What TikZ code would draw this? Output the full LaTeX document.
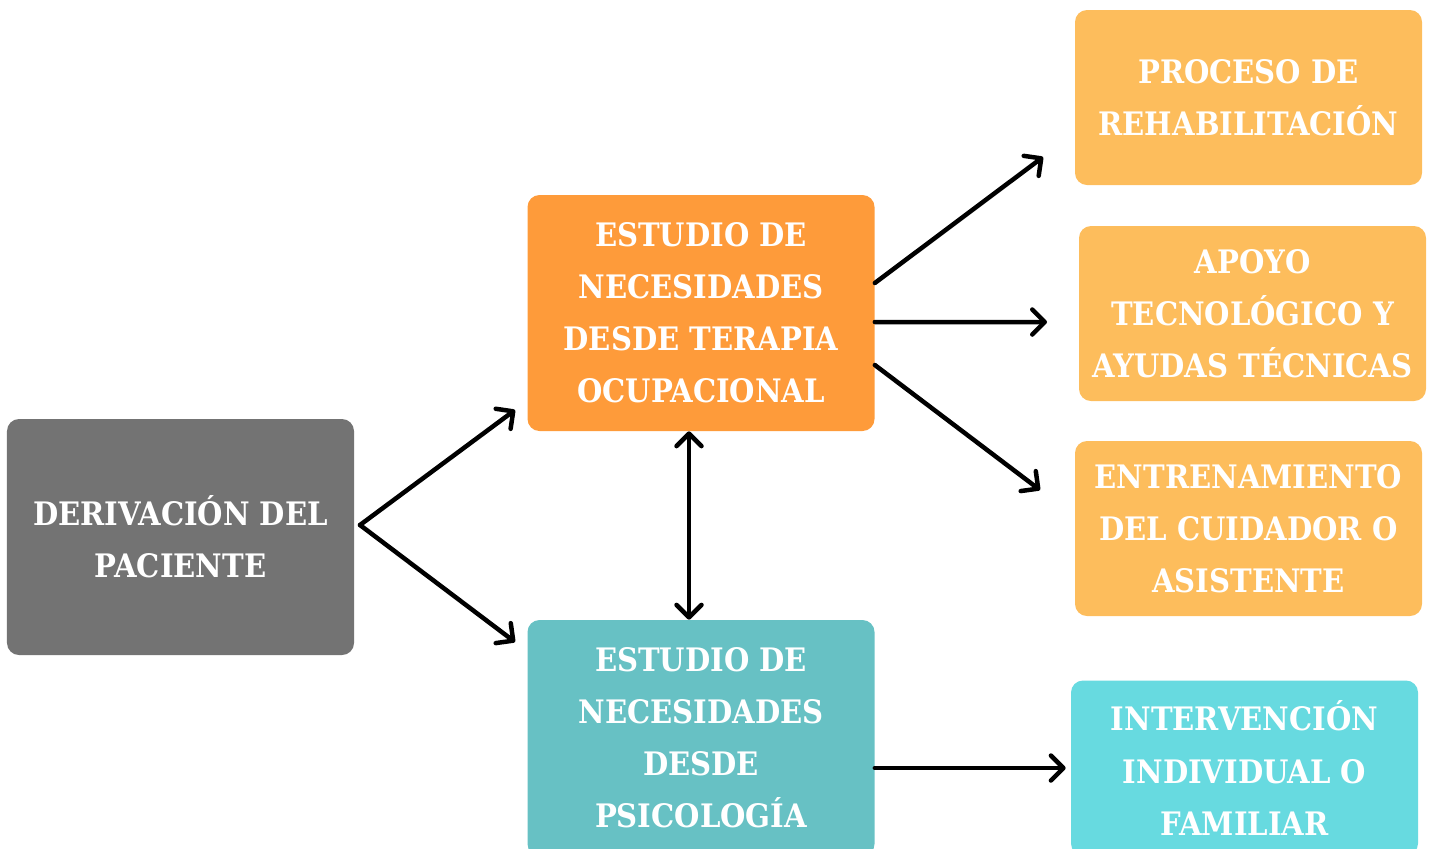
\documentclass[tikz,border=0pt]{standalone}
\usepackage{fontspec}
\newfontfamily\boxfont{DejaVu Serif Condensed}
\usetikzlibrary{arrows.meta}

\definecolor{grisderiv}{HTML}{737373}
\definecolor{naranja}{HTML}{FE9B3A}
\definecolor{naranjaclaro}{HTML}{FDBD5C}
\definecolor{turquesa}{HTML}{67C1C4}
\definecolor{turquesaclaro}{HTML}{67DAE0}

\tikzset{
    caja/.style={rectangle,rounded corners=0.24cm,text=white,align=center,
        minimum width=6.94cm,inner sep=0pt,
        font=\boxfont\bfseries\fontsize{18.4}{29.6}\selectfont},
    flecha/.style={line width=0.09cm,line cap=round,
        -{Straight Barb[length=0.25cm,width=0.5cm,line cap=round,line join=round]}},
    dobleflecha/.style={flecha,{Straight Barb[length=0.25cm,width=0.5cm,line cap=round,line join=round]}-{Straight Barb[length=0.25cm,width=0.5cm,line cap=round,line join=round]}}
}

\begin{document}
\begin{tikzpicture}
        \clip (0,0) rectangle (28.64,-16.96);

        \coordinate (D) at (3.61,-10.74);
        \coordinate (T) at (14.02,-6.26);
        \coordinate (P) at (14.02,-14.76);
        \coordinate (R) at (24.97,-1.95);
        \coordinate (A) at (25.05,-6.27);
        \coordinate (E) at (24.97,-10.57);
        \coordinate (I) at (24.89,-15.36);

        \node[caja,fill=grisderiv,minimum height=4.72cm]    (deriv)  at (D) {DERIVACIÓN DEL\\PACIENTE};
        \node[caja,fill=naranja,minimum height=4.72cm]      (terapia) at (T) {ESTUDIO DE\\NECESIDADES\\DESDE TERAPIA\\OCUPACIONAL};
        \node[caja,fill=turquesa,minimum height=4.72cm]     (psico)  at (P) {ESTUDIO DE\\NECESIDADES\\DESDE\\PSICOLOGÍA};
        \node[caja,fill=naranjaclaro,minimum height=3.5cm]  (rehab)  at (R) {PROCESO DE\\REHABILITACIÓN};
        \node[caja,fill=naranjaclaro,minimum height=3.5cm]  (apoyo)  at (A) {APOYO\\TECNOLÓGICO Y\\AYUDAS TÉCNICAS};
        \node[caja,fill=naranjaclaro,minimum height=3.5cm]  (entren) at (E) {ENTRENAMIENTO\\DEL CUIDADOR O\\ASISTENTE};
        \node[caja,fill=turquesaclaro,minimum height=3.5cm] (interv) at (I) {INTERVENCIÓN\\INDIVIDUAL O\\FAMILIAR};

        % puntas de las flechas
        \coordinate (fork)  at (7.2,-10.5);
        \coordinate (tipT)  at (10.3,-8.2);
        \coordinate (tipP)  at (10.3,-12.84);
        \coordinate (tipR)  at (20.86,-3.14);
        \coordinate (tipA)  at (20.94,-6.44);
        \coordinate (tipE)  at (20.8,-9.8);

        \draw[flecha] (fork) -- (tipT);
        \draw[flecha] (fork) -- (tipP);
        \draw[flecha] ([yshift=0.6cm]terapia.east)   -- (tipR);
        \draw[flecha] ([yshift=-0.18cm]terapia.east) -- (tipA);
        \draw[flecha] ([yshift=-1.04cm]terapia.east) -- (tipE);
        \draw[dobleflecha] ([xshift=-0.24cm]terapia.south) -- ([xshift=-0.24cm]psico.north);
        \draw[flecha,shorten >=0.1cm] ([yshift=-0.6cm]psico.east) -- (interv.west);
    \end{tikzpicture}
\end{document}
